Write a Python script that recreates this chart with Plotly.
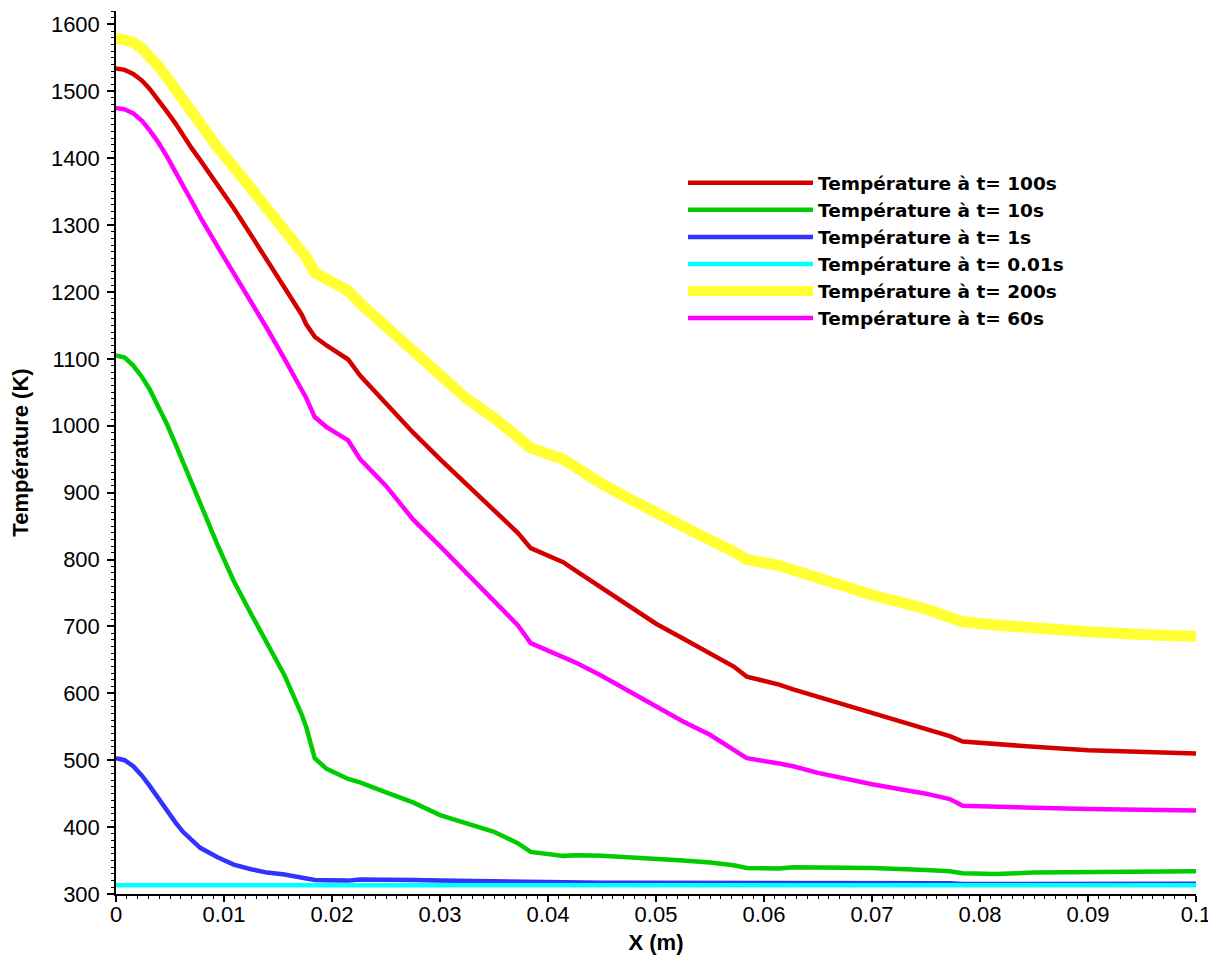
import plotly.graph_objects as go

# Position along X (m)
x_pos = [0, 0.0008, 0.0016, 0.0024, 0.0031, 0.0039, 0.0047, 0.0055, 0.0062, 0.007,
         0.0078, 0.0094, 0.0109, 0.0125, 0.014, 0.0156, 0.0172, 0.0176, 0.0184, 0.0195,
         0.0215, 0.0226, 0.025, 0.0275, 0.03, 0.0325, 0.035, 0.0372, 0.0384, 0.0414,
         0.0427, 0.045, 0.0475, 0.05, 0.0525, 0.055, 0.0572, 0.0584, 0.0614, 0.0627,
         0.065, 0.07, 0.075, 0.0772, 0.0784, 0.0814, 0.085, 0.09, 0.095, 0.1]

T_100s = [1534, 1532, 1526, 1516, 1504, 1488, 1470, 1452, 1434, 1415,
          1397, 1361, 1325, 1285, 1247, 1207, 1166, 1152, 1133, 1120,
          1099, 1075, 1034, 990, 950, 911, 874, 840, 817, 796,
          782, 757, 730, 704, 682, 660, 640, 625, 613, 606,
          595, 570, 546, 536, 528, 524, 520, 515, 512, 510]

T_10s = [1105, 1102, 1090, 1073, 1055, 1030, 1003, 973, 945, 914,
         884, 822, 768, 719, 674, 627, 568, 550, 503, 487,
         472, 467, 452, 437, 418, 405, 393, 376, 363, 357,
         358, 357, 355, 353, 350, 347, 343, 339, 338, 340,
         340, 339, 336, 334, 331, 330, 332, 333, 333, 334]

T_1s = [503, 500, 491, 477, 462, 443, 424, 407, 393, 380,
        369, 355, 344, 337, 332, 329, 325, 324, 321, 320.5,
        320, 321.5, 322, 321, 320, 319.5, 319, 318.5, 317, 316.5,
        317, 317, 317, 317, 316.5, 316.5, 316.5, 316, 316, 316.5,
        316.5, 316, 316, 316, 315, 315, 315.5, 315.5, 315.5, 315.5]

T_001s = [313, 313, 313, 313, 313, 313, 313, 313, 313, 313,
          313, 313, 313, 313, 313, 313, 313, 313, 313, 313,
          313, 313, 313, 313, 313, 313, 313, 313, 313, 313,
          313, 313, 313, 313, 313, 313, 313, 313, 313, 313,
          313, 313, 313, 313, 313, 313, 313, 313, 313, 313]

T_200s = [1580, 1578, 1573, 1564, 1553, 1538, 1521, 1503, 1486, 1466,
          1447, 1416, 1387, 1356, 1325, 1293, 1261, 1252, 1229, 1218,
          1202, 1183, 1148, 1110, 1073, 1040, 1012, 985, 967, 950,
          936, 913, 891, 869, 848, 829, 812, 800, 791, 784,
          771, 747, 726, 714, 707, 702, 697, 692, 688, 685]

T_60s = [1475, 1473, 1467, 1456, 1442, 1424, 1403, 1381, 1359, 1336,
         1312, 1268, 1228, 1186, 1145, 1100, 1054, 1042, 1013, 998,
         978, 950, 910, 860, 820, 779, 740, 702, 675, 655,
         645, 626, 603, 580, 558, 538, 515, 503, 495, 491,
         481, 464, 450, 442, 432, 430, 429, 427, 426, 425]

series_names = ["Température à t= 100s", "Température à t= 10s", "Température à t= 1s",
                "Température à t= 0.01s", "Température à t= 200s", "Température à t= 60s"]
series_values = [T_100s, T_10s, T_1s, T_001s, T_200s, T_60s]
series_colors = ["#d40000", "#00cc00", "#3333ff", "#00ffff", "#ffff33", "#ff00ff"]
series_widths = [4.5, 4.5, 4.5, 4.5, 11, 4.5]

FONT = "Liberation Sans, Arial, sans-serif"
LEGEND_FONT = "DejaVu Sans, Liberation Sans, Arial, sans-serif"

fig = go.Figure()
for name, vals, col, w in zip(series_names, series_values, series_colors, series_widths):
    fig.add_trace(go.Scatter(x=x_pos, y=vals, mode="lines", name=name,
                             line=dict(color=col, width=w)))

common_x = dict(range=[0, 0.1], showgrid=False, zeroline=False)
common_y = dict(range=[300, 1620], showgrid=False, zeroline=False)

fig.update_layout(
    width=1208, height=953,
    margin=dict(l=108, r=20, t=3, b=67),
    paper_bgcolor="white", plot_bgcolor="white",
    font=dict(family=FONT, color="black", size=22),
    showlegend=True,
    legend=dict(x=0.525, y=0.8264, xanchor="left", yanchor="top",
                bgcolor="rgba(0,0,0,0)", itemwidth=125,
                font=dict(family=LEGEND_FONT, size=18.5, color="black", weight="bold"),
                tracegroupgap=0),
    xaxis=dict(**common_x, dtick=0.01, tick0=0, showline=True, linecolor="black", linewidth=1.5,
               ticks="outside", ticklen=6, tickwidth=1.5, tickcolor="black", automargin=False,
               ticklabelstandoff=-6,
               minor=dict(dtick=0.001, ticks="outside", ticklen=3, tickwidth=1, tickcolor="black"),
               tickfont=dict(size=22, family=FONT),
               title=dict(text="X (m)", font=dict(size=22, family=FONT, weight="bold"), standoff=8)),
    yaxis=dict(**common_y, dtick=100, tick0=300, showline=True, linecolor="black", linewidth=1.5,
               ticks="outside", ticklen=7, tickwidth=1.5, tickcolor="black", automargin=False,
               minor=dict(dtick=10, ticks="outside", ticklen=3, tickwidth=1, tickcolor="black"),
               tickfont=dict(size=22, family=FONT), ticklabelstandoff=3,
               title=dict(text="Température (K)", font=dict(size=22, family=FONT, weight="bold"), standoff=17)),
    xaxis2=dict(**common_x, overlaying="x", anchor="y", side="bottom", dtick=0.01, tick0=0,
                ticks="inside", ticklen=6, tickwidth=1.5, tickcolor="black", showticklabels=False,
                showline=False,
                minor=dict(dtick=0.001, ticks="inside", ticklen=3, tickwidth=1, tickcolor="black")),
    yaxis2=dict(**common_y, overlaying="y", anchor="x", side="left", dtick=100, tick0=300,
                ticks="inside", ticklen=7, tickwidth=1.5, tickcolor="black", showticklabels=False,
                showline=False,
                minor=dict(dtick=10, ticks="inside", ticklen=3, tickwidth=1, tickcolor="black")),
)

fig.write_html("out.html")
